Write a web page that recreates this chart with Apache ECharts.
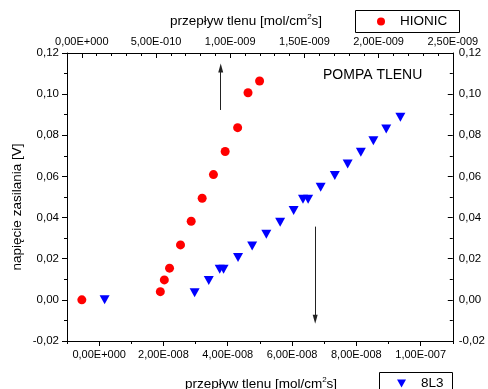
<!DOCTYPE html>
<html>
<head>
<meta charset="utf-8">
<script src="https://cdn.jsdelivr.net/npm/echarts@6/dist/echarts.min.js"></script>
<style>html,body{margin:0;padding:0;background:#fff}#c{width:488px;height:389px}</style>
</head>
<body>
<div id="c"></div>
<script>
// HIONIC series (top x axis)
const hionicX = [0, 5.29e-10, 5.56e-10, 5.91e-10, 6.65e-10, 7.37e-10, 8.11e-10, 8.87e-10, 9.66e-10, 1.05e-9, 1.12e-9, 1.198e-9];
const hionicY = [0, 0.0040, 0.0097, 0.0154, 0.0267, 0.0382, 0.0494, 0.0609, 0.0721, 0.0837, 0.1007, 0.1064];
// 8L3 series (bottom x axis)
const l3X = [1.7e-9, 2.97e-8, 3.41e-8, 3.75e-8, 3.87e-8, 4.32e-8, 4.76e-8, 5.20e-8, 5.63e-8, 6.05e-8, 6.34e-8, 6.50e-8, 6.89e-8, 7.33e-8, 7.73e-8, 8.14e-8, 8.53e-8, 8.93e-8, 9.37e-8];
const l3Y = [0, 0.0035, 0.0094, 0.0149, 0.0149, 0.0206, 0.0262, 0.0319, 0.0377, 0.0434, 0.0489, 0.0489, 0.0547, 0.0604, 0.0661, 0.0718, 0.0774, 0.0831, 0.0888];
// tick labels
const bottomTicks = [0, 2e-8, 4e-8, 6e-8, 8e-8, 1e-7];
const topTicks = [0, 5e-10, 1e-9, 1.5e-9, 2e-9, 2.5e-9];
const yTicks = [-0.02, 0, 0.02, 0.04, 0.06, 0.08, 0.10, 0.12];
// annotation arrows
const arrowUp = [[9.36e-10, 0.0923], [9.36e-10, 0.1127]];
const arrowDown = [[6.72e-8, 0.0356], [6.72e-8, -0.0094]];
const axisTitle = 'przepływ tlenu [mol/cm{sup|2}s]';
const yTitle = 'napięcie zasilania [V]';

const FONT = 'Liberation Sans, Arial, sans-serif';
function sci(v) {
  if (Math.abs(v) < 1e-25) return '0,00E+000';
  let e = Math.floor(Math.log10(Math.abs(v)) + 1e-9);
  let m = v / Math.pow(10, e);
  if (Math.abs(m) >= 9.995) { m /= 10; e++; }
  return m.toFixed(2).replace('.', ',') + 'E' + (e < 0 ? '-' : '+') + String(Math.abs(e)).padStart(3, '0');
}
function yfmt(v) { return v.toFixed(2).replace('.', ','); }

const lbl = { color: '#000', fontFamily: FONT, fontSize: 11 };
const line = { show: true, onZero: false, lineStyle: { color: '#000', width: 1 } };
const noLine = { show: false, onZero: false };

const chart = echarts.init(document.getElementById('c'), null, { renderer: 'canvas' });
chart.setOption({
  animation: false,
  backgroundColor: '#fff',
  grid: { left: 67, right: 34, top: 53, bottom: 48, containLabel: false },
  xAxis: [
    { type: 'value', position: 'bottom', min: -1e-8, max: 1.1e-7, axisLine: line,
      axisTick: { show: true, length: 5, inside: false, customValues: bottomTicks, lineStyle: { color: '#000' } },
      axisLabel: Object.assign({ customValues: bottomTicks, formatter: sci, margin: 8 }, lbl),
      splitLine: { show: false } },
    { type: 'value', position: 'bottom', min: -1e-8, max: 1.1e-7, interval: 1e-8, axisLine: noLine,
      axisTick: { show: true, length: 3, inside: false, lineStyle: { color: '#000' } },
      axisLabel: { show: false }, splitLine: { show: false } },
    { type: 'value', position: 'top', min: -1e-10, max: 2.5e-9, axisLine: line,
      axisTick: { show: true, length: 5, inside: true, customValues: topTicks, lineStyle: { color: '#000' } },
      axisLabel: Object.assign({ customValues: topTicks, formatter: sci, margin: 6 }, lbl),
      splitLine: { show: false } },
    { type: 'value', position: 'top', min: -1e-10, max: 2.5e-9, interval: 1e-10, axisLine: noLine,
      axisTick: { show: true, length: 3, inside: true, lineStyle: { color: '#000' } },
      axisLabel: { show: false }, splitLine: { show: false } }
  ],
  yAxis: [
    { type: 'value', position: 'left', min: -0.02, max: 0.12, interval: 0.02, axisLine: line,
      axisTick: { show: true, length: 5, inside: false, lineStyle: { color: '#000' } },
      minorTick: { show: true, splitNumber: 2, length: 3, lineStyle: { color: '#000' } },
      axisLabel: Object.assign({ formatter: yfmt, margin: 8 }, lbl, { fontSize: 11.5 }),
      splitLine: { show: false } },
    { type: 'value', position: 'right', min: -0.02, max: 0.12, interval: 0.02, axisLine: line,
      axisTick: { show: true, length: 5, inside: true, lineStyle: { color: '#000' } },
      minorTick: { show: true, splitNumber: 2, length: 3, lineStyle: { color: '#000' } },
      axisLabel: Object.assign({ formatter: yfmt, margin: 6 }, lbl, { fontSize: 11.5 }),
      splitLine: { show: false } }
  ],
  series: [
    { name: '8L3', type: 'scatter', xAxisIndex: 0, yAxisIndex: 0,
      data: l3X.map((x, i) => [x, l3Y[i]]),
      symbol: 'triangle', symbolSize: [10, 9], symbolRotate: 180,
      itemStyle: { color: '#0000ff', opacity: 1 },
      markLine: { silent: true, symbol: ['none', 'triangle'], symbolSize: [5, 9],
        lineStyle: { color: '#222', width: 1, type: 'solid' }, label: { show: false },
        data: [[{ coord: arrowDown[0] }, { coord: arrowDown[1] }]] } },
    { name: 'HIONIC', type: 'scatter', xAxisIndex: 2, yAxisIndex: 0,
      data: hionicX.map((x, i) => [x, hionicY[i]]),
      symbol: 'circle', symbolSize: 9,
      itemStyle: { color: '#ff0000', opacity: 1 },
      markLine: { silent: true, symbol: ['none', 'triangle'], symbolSize: [5, 9],
        lineStyle: { color: '#222', width: 1, type: 'solid' }, label: { show: false },
        data: [[{ coord: arrowUp[0] }, { coord: arrowUp[1] }]] } }
  ],
  graphic: [
    { type: 'text', x: 246, y: 21, style: { text: axisTitle, fill: '#000', font: '13.5px ' + FONT, align: 'center', verticalAlign: 'middle',
      rich: { sup: { fontSize: 8, fontFamily: FONT, padding: [0, 0, 8, 0] } } } },
    { type: 'text', x: 261, y: 384, style: { text: axisTitle, fill: '#000', font: '13.5px ' + FONT, align: 'center', verticalAlign: 'middle',
      rich: { sup: { fontSize: 8, fontFamily: FONT, padding: [0, 0, 8, 0] } } } },
    { type: 'text', x: 17, y: 207, rotation: Math.PI / 2, style: { text: yTitle, fill: '#000', font: '13.5px ' + FONT, align: 'center', verticalAlign: 'middle' } },
    { type: 'text', x: 323, y: 75, style: { text: 'POMPA TLENU', fill: '#000', font: '14px ' + FONT, align: 'left', verticalAlign: 'middle' } },
    { type: 'rect', shape: { x: 355.5, y: 10.5, width: 104, height: 22 }, style: { fill: '#fff', stroke: '#000', lineWidth: 1 } },
    { type: 'circle', shape: { cx: 381, cy: 21.5, r: 4 }, style: { fill: '#ff0000' } },
    { type: 'text', x: 400, y: 21.5, style: { text: 'HIONIC', fill: '#000', font: '13.5px ' + FONT, align: 'left', verticalAlign: 'middle' } },
    { type: 'rect', shape: { x: 379.5, y: 372.5, width: 73, height: 22 }, style: { fill: '#fff', stroke: '#000', lineWidth: 1 } },
    { type: 'polygon', shape: { points: [[397, 379.5], [406, 379.5], [401.5, 387.5]] }, style: { fill: '#0000ff' } },
    { type: 'text', x: 421, y: 383, style: { text: '8L3', fill: '#000', font: '13.5px ' + FONT, align: 'left', verticalAlign: 'middle' } }
  ]
});
</script>
</body>
</html>
